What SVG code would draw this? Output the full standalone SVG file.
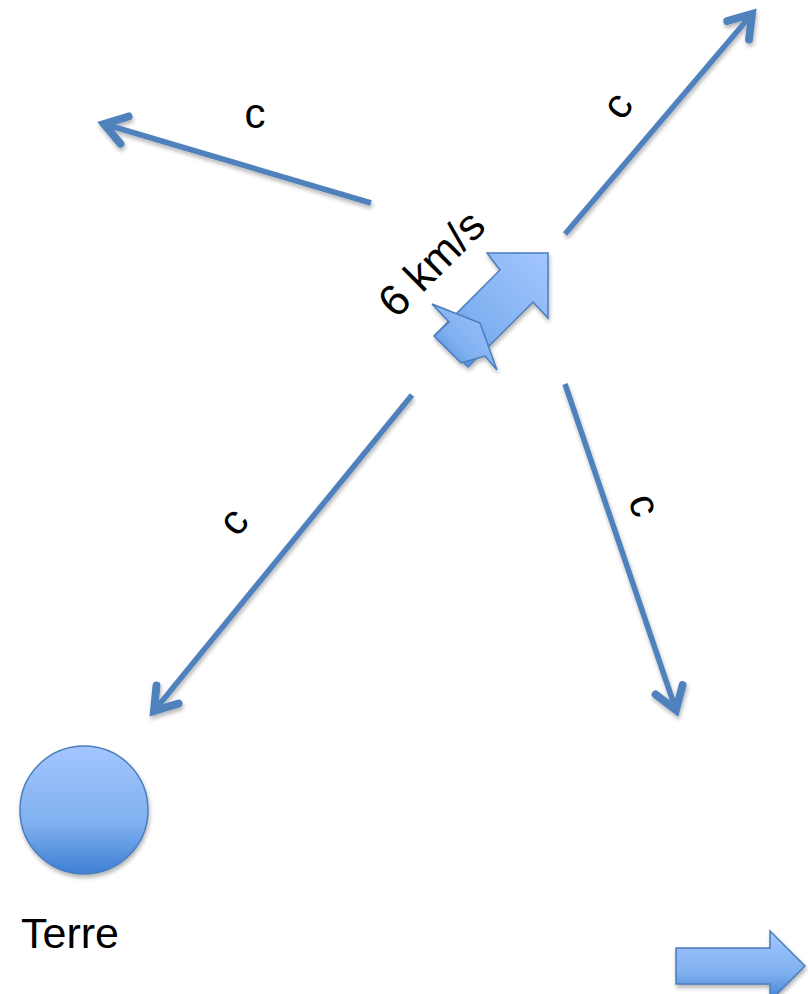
<svg xmlns="http://www.w3.org/2000/svg" width="808" height="994" viewBox="0 0 808 994">
  <style>
    .ray { fill: none; stroke: #4f81bd; stroke-width: 5.5; stroke-linecap: butt; }
    .lbl { font-family: "Liberation Sans", Arial, sans-serif; font-size: 42px; fill: #000; }
    .shape { stroke: #4a7ebb; stroke-width: 1.5; stroke-linejoin: miter; }
  </style>
  <defs>
    <marker id="head" markerUnits="userSpaceOnUse" markerWidth="40" markerHeight="40" viewBox="-22 -14 28 28" refX="0" refY="0" orient="auto">
      <path d="M-15,-10 L0,0 L-15,10" fill="none" stroke="#4f81bd" stroke-width="5.5" stroke-linecap="round" stroke-linejoin="miter"/>
    </marker>
    <linearGradient id="blueV" x1="0" y1="0" x2="0" y2="1">
      <stop offset="0" stop-color="#a3c6ff"/>
      <stop offset="0.6" stop-color="#80b0f0"/>
      <stop offset="1" stop-color="#3d7fd4"/>
    </linearGradient>
    <linearGradient id="blueD" x1="1" y1="0" x2="0" y2="1">
      <stop offset="0" stop-color="#a3c6ff"/>
      <stop offset="0.6" stop-color="#80b0f0"/>
      <stop offset="1" stop-color="#3d7fd4"/>
    </linearGradient>
    <filter id="shadow" x="-20%" y="-20%" width="140%" height="140%">
      <feGaussianBlur in="SourceAlpha" stdDeviation="2"/>
      <feOffset dx="1" dy="3" result="b"/>
      <feComponentTransfer><feFuncA type="linear" slope="0.3"/></feComponentTransfer>
      <feMerge><feMergeNode/><feMergeNode in="SourceGraphic"/></feMerge>
    </filter>
  </defs>

  <g id="connectors" filter="url(#shadow)">
    <line class="ray" x1="371" y1="203" x2="104" y2="124" marker-end="url(#head)"/>
    <line class="ray" x1="565" y1="234" x2="752" y2="14" marker-end="url(#head)"/>
    <line class="ray" x1="412" y1="395" x2="154" y2="711" marker-end="url(#head)"/>
    <line class="ray" x1="565" y1="384" x2="676" y2="710" marker-end="url(#head)"/>
  </g>

  <g id="labels">
    <text class="lbl" x="0" y="0" text-anchor="middle" dominant-baseline="central" transform="translate(255,113)">c</text>
    <text class="lbl" x="0" y="0" text-anchor="middle" dominant-baseline="central" transform="translate(617,105) rotate(-55)">c</text>
    <text class="lbl" x="0" y="0" text-anchor="middle" dominant-baseline="central" transform="translate(233,521) rotate(-50)">c</text>
    <text class="lbl" x="0" y="0" text-anchor="middle" dominant-baseline="central" transform="translate(645,505) rotate(72)">c</text>
  </g>

  <g id="ship" filter="url(#shadow)">
    <polygon class="shape" fill="url(#blueD)" points="548,253 548,318 533,302 468,367 435,335 500,270 487,253"/>
    <polygon class="shape" fill="url(#blueD)" points="434,336 449,322 432,304 480,323 497,370 485,356 461,363"/>
  </g>
  <g id="speed">
    <text class="lbl" style="font-size:44px" x="0" y="0" text-anchor="middle" dominant-baseline="central" transform="translate(431,263) rotate(-45)">6 km/s</text>
  </g>

  <g id="terre">
    <circle class="shape" cx="84" cy="810" r="64" fill="url(#blueV)" filter="url(#shadow)"/>
    <text class="lbl" style="font-size:43px" x="21" y="948">Terre</text>
  </g>

  <g id="direction">
    <polygon class="shape" fill="url(#blueV)" filter="url(#shadow)" points="676,948 770,948 770,931 805,966 770,1001 770,984 676,984"/>
  </g>
</svg>
